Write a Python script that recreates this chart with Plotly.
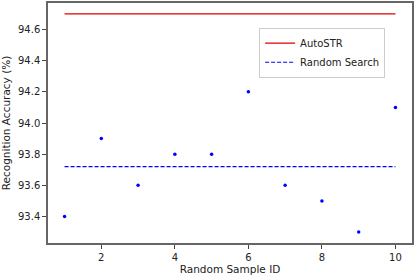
import plotly.graph_objects as go

sample_ids = [1, 2, 3, 4, 5, 6, 7, 8, 9, 10]
random_acc = [93.4, 93.9, 93.6, 93.8, 93.8, 94.2, 93.6, 93.5, 93.3, 94.1]
autostr_acc = 94.7
random_mean = sum(random_acc) / len(random_acc)

fig = go.Figure()
fig.add_trace(go.Scatter(x=[sample_ids[0], sample_ids[-1]], y=[autostr_acc, autostr_acc],
                         mode="lines", name="AutoSTR",
                         line=dict(color="#e00000", width=1.3)))
fig.add_trace(go.Scatter(x=[sample_ids[0], sample_ids[-1]], y=[random_mean, random_mean],
                         mode="lines", name="Random Search",
                         line=dict(color="#0000ff", width=1.1, dash="4px,2px")))
fig.add_trace(go.Scatter(x=sample_ids, y=random_acc, mode="markers", showlegend=False,
                         marker=dict(color="#0000ff", size=3.5)))

axis_common = dict(showline=True, mirror=True, linecolor="#666666", linewidth=1.5,
                   showgrid=False, zeroline=False, ticks="outside", ticklen=4,
                   tickcolor="#444444", tickfont=dict(size=10, color="#222222"))

fig.update_layout(
    width=415, height=277,
    margin=dict(l=48, r=3, t=1, b=34),
    paper_bgcolor="white", plot_bgcolor="white",
    font=dict(family="DejaVu Sans", size=10, color="#222222"),
    xaxis=dict(range=[0.55, 10.45], tickvals=[2, 4, 6, 8, 10],
               automargin=True,
               title=dict(text="Random Sample ID", font=dict(size=10.5), standoff=3),
               **axis_common),
    yaxis=dict(range=[93.23, 94.77], tickvals=[93.4, 93.6, 93.8, 94.0, 94.2, 94.4, 94.6],
               tickformat=".1f",
               title=dict(text="Recognition Accuracy (%)", font=dict(size=10.5), standoff=7),
               **axis_common),
    legend=dict(x=0.58, y=0.897, xanchor="left", yanchor="top",
                bgcolor="white", bordercolor="#cccccc", borderwidth=1,
                font=dict(size=10), itemwidth=30, tracegroupgap=0),
    showlegend=True,
)

fig.write_html("out.html", config={"displayModeBar": False},
               post_script="document.body.style.margin='0';document.body.style.padding='0';")
